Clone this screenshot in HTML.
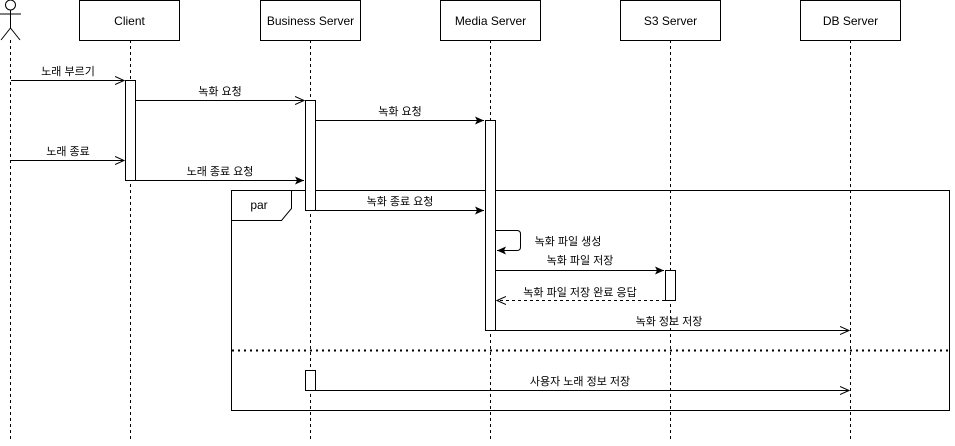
<!DOCTYPE html>
<html><head><meta charset="utf-8"><style>
html,body{margin:0;padding:0;background:#fff;}
text{font-family:"Liberation Sans","Noto Sans CJK KR",sans-serif;font-size:11px;fill:#000;}
</style></head><body>
<svg width="955" height="441" viewBox="0 0 955 441" xmlns="http://www.w3.org/2000/svg">
<defs>
<marker id="f" markerWidth="10" markerHeight="8" refX="9" refY="4" orient="auto" markerUnits="userSpaceOnUse"><path d="M0,0 L9,4 L0,8 L2,4 z" fill="#000"/></marker>
<marker id="o" markerWidth="10" markerHeight="10" refX="9" refY="5" orient="auto" markerUnits="userSpaceOnUse"><path d="M0,1 L9,5 L0,9" fill="none" stroke="#000"/></marker>
</defs>
<g stroke="#000" fill="none">
<!-- lifelines -->
<g stroke-dasharray="3,3">
<line x1="10.5" y1="40" x2="10.5" y2="441"/>
<line x1="130.5" y1="40" x2="130.5" y2="441"/>
<line x1="310.5" y1="40" x2="310.5" y2="441"/>
<line x1="490.5" y1="40" x2="490.5" y2="441"/>
<line x1="670.5" y1="40" x2="670.5" y2="441"/>
<line x1="850.5" y1="40" x2="850.5" y2="441"/>
</g>
<!-- actor -->
<circle cx="10.5" cy="5" r="5" fill="#fff"/>
<line x1="10.5" y1="10" x2="10.5" y2="28"/>
<line x1="0" y1="14" x2="21" y2="14"/>
<line x1="10.5" y1="28" x2="1" y2="40"/>
<line x1="10.5" y1="28" x2="20" y2="40"/>
<!-- boxes -->
<rect x="79.5" y="0.5" width="100" height="40" fill="#fff"/>
<rect x="260.5" y="0.5" width="100" height="40" fill="#fff"/>
<rect x="440.5" y="0.5" width="100" height="40" fill="#fff"/>
<rect x="620.5" y="0.5" width="100" height="40" fill="#fff"/>
<rect x="800.5" y="0.5" width="100" height="40" fill="#fff"/>
<!-- frame -->
<rect x="231.5" y="190.5" width="718" height="220"/>
<path d="M231.5,220.5 L281.5,220.5 L291.5,208.5 L291.5,190.5"/>
<line x1="232" y1="350.5" x2="950" y2="350.5" stroke-dasharray="2,4" stroke-width="2"/>
<!-- activations -->
<rect x="125.5" y="80.5" width="10" height="100" fill="#fff"/>
<rect x="305.5" y="100.5" width="10" height="110" fill="#fff"/>
<rect x="485.5" y="120.5" width="10" height="210" fill="#fff"/>
<rect x="665.5" y="270.5" width="10" height="30" fill="#fff"/>
<rect x="305.5" y="370.5" width="10" height="20" fill="#fff"/>
<!-- messages -->
<line x1="11" y1="80.5" x2="124" y2="80.5" marker-end="url(#o)"/>
<line x1="136" y1="100.5" x2="304" y2="100.5" marker-end="url(#o)"/>
<line x1="316" y1="120.5" x2="484" y2="120.5" marker-end="url(#f)"/>
<line x1="11" y1="160.5" x2="124" y2="160.5" marker-end="url(#o)"/>
<line x1="136" y1="180.5" x2="304" y2="180.5" marker-end="url(#f)"/>
<line x1="316" y1="210.5" x2="484" y2="210.5" marker-end="url(#f)"/>
<path d="M496,230.5 L517,230.5 Q520.5,230.5 520.5,234 L520.5,247 Q520.5,250.5 517,250.5 L497,250.5" marker-end="url(#f)"/>
<line x1="496" y1="270.5" x2="664" y2="270.5" marker-end="url(#f)"/>
<line x1="665" y1="300.5" x2="497" y2="300.5" stroke-dasharray="3,3" marker-end="url(#o)"/>
<line x1="496" y1="330.5" x2="849" y2="330.5" marker-end="url(#o)"/>
<line x1="316" y1="390.5" x2="849" y2="390.5" marker-end="url(#o)"/>
</g>
<g text-anchor="middle" font-size="12">
<text x="129.5" y="25" style="font-size:12px">Client</text>
<text x="310.5" y="25" style="font-size:12px">Business Server</text>
<text x="490.5" y="25" style="font-size:12px">Media Server</text>
<text x="670.5" y="25" style="font-size:12px">S3 Server</text>
<text x="850.5" y="25" style="font-size:12px">DB Server</text>
<text x="68" y="75">노래 부르기</text>
<text x="220" y="95">녹화 요청</text>
<text x="400" y="115">녹화 요청</text>
<text x="68" y="155">노래 종료</text>
<text x="220" y="175">노래 종료 요청</text>
<text x="400" y="205">녹화 종료 요청</text>
<text x="259" y="209" style="font-size:12px">par</text>
<text x="568" y="245">녹화 파일 생성</text>
<text x="580" y="264">녹화 파일 저장</text>
<text x="580" y="296">녹화 파일 저장 완료 응답</text>
<text x="669" y="325">녹화 정보 저장</text>
<text x="580" y="385">사용자 노래 정보 저장</text>
</g>
</svg>
</body></html>
